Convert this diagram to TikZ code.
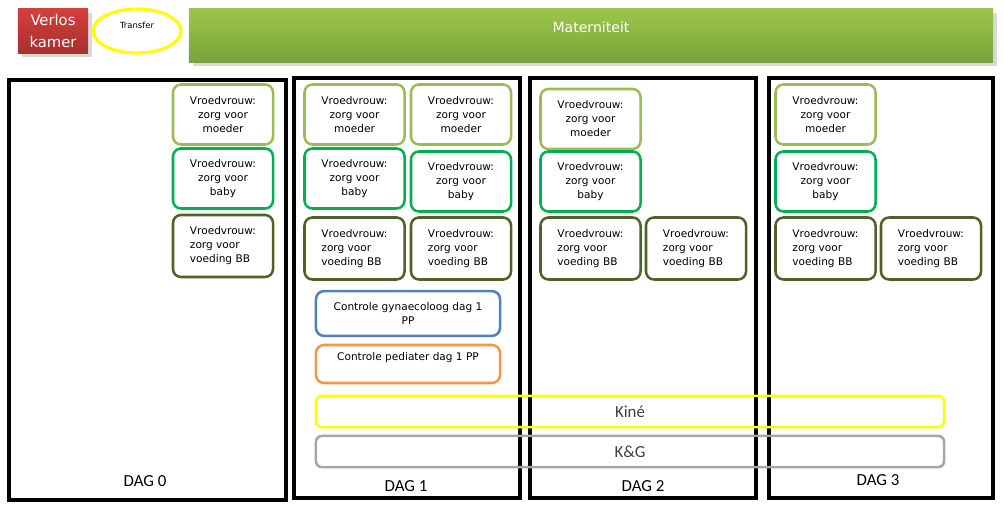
\documentclass[tikz,border=0pt]{standalone}
\usepackage{fontspec}
\setmainfont{DejaVu Sans}
\newfontfamily\daglabel{Carlito}
\usetikzlibrary{shapes.geometric,shadows}
\definecolor{moedergreen}{HTML}{9BBB59}
\definecolor{babygreen}{HTML}{00B050}
\definecolor{voedinggreen}{HTML}{4F6228}
\definecolor{gynblue}{HTML}{4F81BD}
\definecolor{pedorange}{HTML}{F79646}
\definecolor{kineyellow}{HTML}{FFFF00}
\definecolor{kggray}{HTML}{A6A6A6}
\definecolor{verlostop}{HTML}{D2403D}
\definecolor{verlosbot}{HTML}{A8302D}
\definecolor{matertop}{HTML}{9CC649}
\definecolor{materbot}{HTML}{79A43A}
\begin{document}
\begin{tikzpicture}[x=0.025cm,y=-0.025cm,
    vv/.style={rectangle,rounded corners=0.2cm,draw,line width=1.8pt,fill=white,
      minimum width=2.5cm,minimum height=1.5cm,align=center,
      font=\fontsize{7.5}{10}\selectfont},
    moeder/.style={vv,draw=moedergreen},
    baby/.style={vv,draw=babygreen},
    voeding/.style={vv,draw=voedinggreen,align=left,minimum height=1.55cm},
    ctrl/.style={rectangle,rounded corners=0.2cm,line width=1.8pt,fill=white,
      minimum width=4.6cm,align=center,font=\fontsize{7.5}{10}\selectfont},
    band/.style={rectangle,rounded corners=0.15cm,line width=1.8pt,text=black!75,
      minimum width=15.7cm,minimum height=0.78cm,font=\daglabel\fontsize{12}{14}\selectfont},
    daybox/.style={draw,line width=2.6pt},
    dag/.style={font=\daglabel\fontsize{12}{14}\selectfont}]
  \useasboundingbox (0,0) rectangle (1004,510);
  % header
  \node[rectangle,top color=verlostop,bottom color=verlosbot,drop shadow={opacity=0.3},
    minimum width=1.75cm,minimum height=1.1cm,text=white,align=center,
    font=\fontsize{10.5}{15}\selectfont] (verlos) at (53,31) {Verlos\\kamer};
  \node[ellipse,draw=kineyellow,line width=2.2pt,minimum width=2.2cm,minimum height=1.1cm,
    font=\fontsize{6}{7}\selectfont] (transfer) at (137,31) {\raisebox{8pt}{Transfer}};
  \node[rectangle,top color=matertop,bottom color=materbot,drop shadow={opacity=0.3},
    minimum width=20.1cm,minimum height=1.325cm,text=white,
    font=\fontsize{10}{12}\selectfont] (mater) at (591,35.5) {\raisebox{12pt}{Materniteit}};
  % days
  \draw[daybox] (9,80) rectangle (286,500);
  \draw[daybox] (294,78) rectangle (520,498);
  \draw[daybox] (530,78) rectangle (756,498);
  \draw[daybox] (769,78) rectangle (993,498);
  \node[dag] (dag0) at (145,481) {DAG 0};
  \node[dag] (dag1) at (406,486) {DAG 1};
  \node[dag] (dag2) at (643,486) {DAG 2};
  \node[dag] (dag3) at (878,480) {DAG 3};
  % dag 0
  \node[moeder] (m0) at (223,114.5) {Vroedvrouw:\\zorg voor\\moeder};
  \node[baby] (b0) at (223,178.5) {Vroedvrouw:\\zorg voor\\baby};
  \node[voeding] (v0) at (223,246) {Vroedvrouw:\\zorg voor\\voeding BB};
  % dag 1
  \node[moeder] (m1a) at (354.5,114.5) {Vroedvrouw:\\zorg voor\\moeder};
  \node[moeder] (m1b) at (461,114.5) {Vroedvrouw:\\zorg voor\\moeder};
  \node[baby] (b1a) at (354.5,178.5) {Vroedvrouw:\\zorg voor\\baby};
  \node[baby] (b1b) at (461,181.5) {Vroedvrouw:\\zorg voor\\baby};
  \node[voeding] (v1a) at (354.5,248.5) {Vroedvrouw:\\zorg voor\\voeding BB};
  \node[voeding] (v1b) at (461,248.5) {Vroedvrouw:\\zorg voor\\voeding BB};
  \node[ctrl,draw=gynblue,minimum height=1.12cm] (gyn) at (408,313.5) {Controle gynaecoloog dag 1\\PP};
  \node[ctrl,draw=pedorange,minimum height=0.95cm] (ped) at (408,364) {\raisebox{10pt}{Controle pediater dag 1 PP}};
  % dag 2
  \node[moeder] (m2) at (590.5,119) {Vroedvrouw:\\zorg voor\\moeder};
  \node[baby] (b2) at (590.5,181.5) {Vroedvrouw:\\zorg voor\\baby};
  \node[voeding] (v2a) at (590.5,248.5) {Vroedvrouw:\\zorg voor\\voeding BB};
  \node[voeding] (v2b) at (696,248.5) {Vroedvrouw:\\zorg voor\\voeding BB};
  % dag 3
  \node[moeder] (m3) at (825.5,114.5) {Vroedvrouw:\\zorg voor\\moeder};
  \node[baby] (b3) at (825.5,181.5) {Vroedvrouw:\\zorg voor\\baby};
  \node[voeding] (v3a) at (825.5,248.5) {Vroedvrouw:\\zorg voor\\voeding BB};
  \node[voeding] (v3b) at (931,248.5) {Vroedvrouw:\\zorg voor\\voeding BB};
  % bands over the days
  \node[band,draw=kineyellow] (kine) at (630,411.5) {Kiné};
  \node[band,draw=kggray] (kg) at (630,451.5) {K\&G};
\end{tikzpicture}
\end{document}
